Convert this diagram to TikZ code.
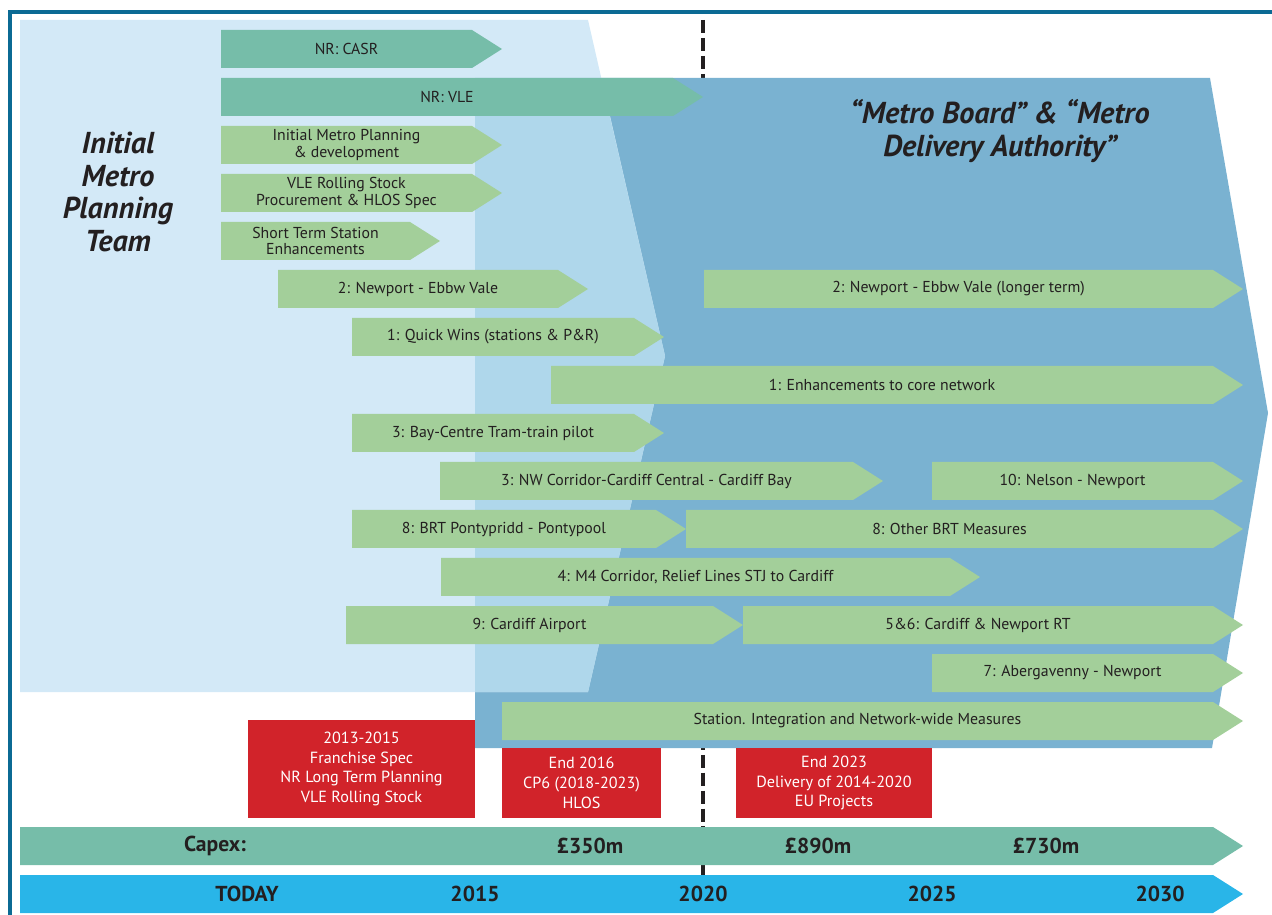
\documentclass[tikz,border=0pt]{standalone}
\usepackage{fontspec}
\setmainfont{PT Sans}
\usepackage{tikz}

\definecolor{frameblue}{HTML}{0B6A94}
\definecolor{paleblue}{HTML}{D3E9F7}
\definecolor{midblue}{HTML}{AFD7EB}
\definecolor{deepblue}{HTML}{7AB2D1}
\definecolor{nrteal}{HTML}{76BDA9}
\definecolor{stepgreen}{HTML}{A3CF9A}
\definecolor{boxred}{HTML}{D1232A}
\definecolor{yearcyan}{HTML}{29B5E8}
\definecolor{ink}{HTML}{231F20}

\begin{document}
\begin{tikzpicture}[x=0.02cm,y=-0.02cm,
  tealbar/.style={fill=nrteal},
  greenbar/.style={fill=stepgreen},
  redbox/.style={fill=boxred},
  lbl/.style={text=ink,align=center,inner sep=0pt,font=\fontsize{9}{9.6}\selectfont},
  boxlbl/.style={text=white,align=center,inner sep=0pt,font=\fontsize{9.2}{11.3}\selectfont},
  yearlbl/.style={text=ink,inner sep=0pt,font=\fontsize{12.3}{12}\selectfont\bfseries},
  bigtitle/.style={text=ink,align=center,inner sep=0pt,font=\fontsize{17.2}{18.7}\selectfont\bfseries\itshape}]
\useasboundingbox (0,0) rectangle (1272,915);

\draw[frameblue,line width=2.27pt] (1272,12) -- (10,12) -- (10,915);
\draw[ink,line width=2pt,dash pattern=on 7.4pt off 2.8pt] (703,20) -- (703,875);

\fill[deepblue] (475,78) -- (1210,78) -- (1268,413) -- (1212,748) -- (475,748) -- cycle;
\fill[paleblue] (20,20) -- (588,20) -- (665,356) -- (588,692) -- (20,692) -- cycle;
\fill[midblue] (475,78) -- (601,78) -- (665,356) -- (588,692) -- (475,692) -- cycle;

\node[bigtitle] (team) at (118,192) {Initial\\Metro\\Planning\\Team};
\node[bigtitle] (board) at (1000,131) {“Metro Board” \& “Metro\\Delivery Authority”};

\fill[tealbar] (221,30) -- (472,30) -- (502,49) -- (472,68) -- (221,68) -- cycle;
\node[lbl] (casr) at (346.5,49) {NR: CASR};
\fill[tealbar] (221,78) -- (673,78) -- (703,97) -- (673,116) -- (221,116) -- cycle;
\node[lbl] (vle) at (447,97) {NR: VLE};
\fill[greenbar] (221,126) -- (472,126) -- (502,145) -- (472,164) -- (221,164) -- cycle;
\node[lbl] (planning) at (346.5,145) {Initial Metro Planning\\\& development};
\fill[greenbar] (221,174) -- (472,174) -- (502,193) -- (472,212) -- (221,212) -- cycle;
\node[lbl] (stock) at (346.5,193) {VLE Rolling Stock\\Procurement \& HLOS Spec};
\fill[greenbar] (221,222) -- (410,222) -- (440,241) -- (410,260) -- (221,260) -- cycle;
\node[lbl] (shortterm) at (315.5,241) {Short Term Station\\Enhancements};
\fill[greenbar] (278,270) -- (558,270) -- (588,289) -- (558,308) -- (278,308) -- cycle;
\node[lbl] (ebbw) at (418,289) {2: Newport - Ebbw Vale};
\fill[greenbar] (704,270) -- (1213,270) -- (1243,289) -- (1213,308) -- (704,308) -- cycle;
\node[lbl] (ebbwlong) at (958.5,289) {2: Newport - Ebbw Vale (longer term)};
\fill[greenbar] (352,318) -- (634,318) -- (664,337) -- (634,356) -- (352,356) -- cycle;
\node[lbl] (quickwins) at (493,337) {1: Quick Wins (stations \& P\&R)};
\fill[greenbar] (551,366) -- (1213,366) -- (1243,385) -- (1213,404) -- (551,404) -- cycle;
\node[lbl] (core) at (882,385) {1: Enhancements to core network};
\fill[greenbar] (352,414) -- (634,414) -- (664,433) -- (634,452) -- (352,452) -- cycle;
\node[lbl] (baycentre) at (493,433) {3: Bay-Centre Tram-train pilot};
\fill[greenbar] (440,462) -- (853,462) -- (883,481) -- (853,500) -- (440,500) -- cycle;
\node[lbl] (nwcorridor) at (646.5,481) {3: NW Corridor-Cardiff Central - Cardiff Bay};
\fill[greenbar] (932,462) -- (1213,462) -- (1243,481) -- (1213,500) -- (932,500) -- cycle;
\node[lbl] (nelson) at (1072.5,481) {10: Nelson - Newport};
\fill[greenbar] (352,510) -- (656,510) -- (686,529) -- (656,548) -- (352,548) -- cycle;
\node[lbl] (pontypridd) at (504,529) {8: BRT Pontypridd - Pontypool};
\fill[greenbar] (686,510) -- (1213,510) -- (1243,529) -- (1213,548) -- (686,548) -- cycle;
\node[lbl] (otherbrt) at (949.5,529) {8: Other BRT Measures};
\fill[greenbar] (441,558) -- (950,558) -- (980,577) -- (950,596) -- (441,596) -- cycle;
\node[lbl] (mfour) at (695.5,577) {4: M4 Corridor, Relief Lines STJ to Cardiff};
\fill[greenbar] (346,606) -- (713,606) -- (743,625) -- (713,644) -- (346,644) -- cycle;
\node[lbl] (airport) at (529.5,625) {9: Cardiff Airport};
\fill[greenbar] (743,606) -- (1213,606) -- (1243,625) -- (1213,644) -- (743,644) -- cycle;
\node[lbl] (cardiffrt) at (978,625) {5\&6: Cardiff \& Newport RT};
\fill[greenbar] (932,654) -- (1213,654) -- (1243,673) -- (1213,692) -- (932,692) -- cycle;
\node[lbl] (aberg) at (1072.5,673) {7: Abergavenny - Newport};
\fill[greenbar] (502,702) -- (1213,702) -- (1243,721) -- (1213,740) -- (502,740) -- cycle;
\node[lbl] (station) at (857.5,721) {Station. Integration and Network-wide Measures};

\fill[redbox] (248,720) rectangle (475,818);
\node[boxlbl] (franchise) at (361.5,769) {2013-2015\\Franchise Spec\\NR Long Term Planning\\VLE Rolling Stock};
\fill[redbox] (502,748) rectangle (661,818);
\node[boxlbl] (hlos) at (581.5,783) {End 2016\\CP6 (2018-2023)\\HLOS};
\fill[redbox] (736,748) rectangle (932,818);
\node[boxlbl] (euproj) at (834,783) {End 2023\\Delivery of 2014-2020\\EU Projects};

\fill[tealbar] (20,827) -- (1213,827) -- (1243,846) -- (1213,865) -- (20,865) -- cycle;
\node[yearlbl] (capex) at (215,846) {Capex:};
\node[yearlbl] (capa) at (590,846) {£350m};
\node[yearlbl] (capb) at (818,846) {£890m};
\node[yearlbl] (capc) at (1046,846) {£730m};

\fill[yearcyan] (20,875) -- (1213,875) -- (1243,894) -- (1213,913) -- (20,913) -- cycle;
\node[yearlbl] (today) at (247,894) {TODAY};
\node[yearlbl] (ya) at (475,894) {2015};
\node[yearlbl] (yb) at (703,894) {2020};
\node[yearlbl] (yc) at (932,894) {2025};
\node[yearlbl] (yd) at (1160,894) {2030};

\end{tikzpicture}
\end{document}
